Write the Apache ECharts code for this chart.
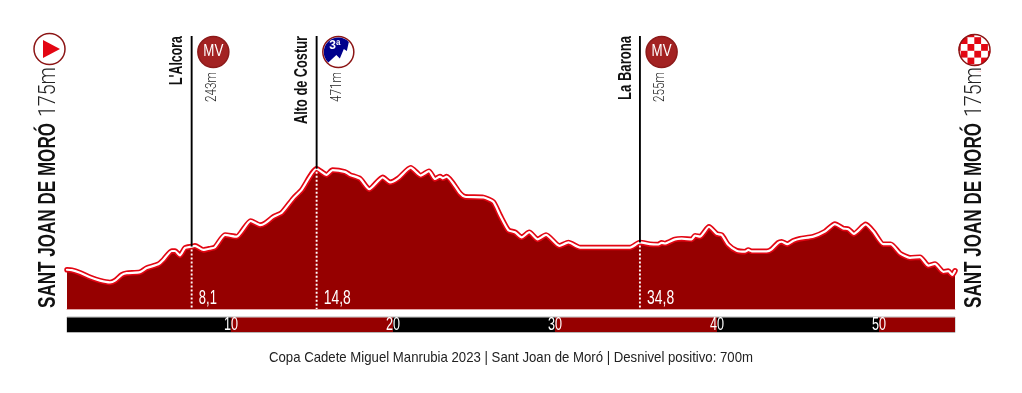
<!DOCTYPE html>
<html><head><meta charset="utf-8">
<style>html,body{margin:0;padding:0;background:#fff}#c{width:1022px;height:393px}</style>
<script src="https://cdn.jsdelivr.net/npm/echarts@6/dist/echarts.min.js"></script>
</head><body><div id="c"></div>
<script>
const km=[0,0.29,0.79,1.4,2.01,2.61,2.92,3.33,3.63,4.44,4.85,5.55,5.86,6.37,6.57,6.87,7.18,7.58,7.78,8.29,8.7,9,9.61,10.32,11.17,11.74,12.04,12.55,13.06,13.76,14.27,15.18,15.79,16.15,16.9,17.21,17.82,18.38,19.2,19.64,20.15,20.9,21.51,22.01,22.38,22.68,22.85,23.09,23.9,24.2,25.32,25.92,26.33,26.84,27.24,27.65,28.11,28.62,29.13,29.94,30.49,31.2,34.24,34.84,35.45,35.96,36.16,36.36,36.97,37.38,37.99,38.19,38.49,39.04,39.51,39.81,40.21,40.72,41.23,41.43,41.64,42.55,42.85,43.25,43.46,43.8,44.17,44.57,45.38,46.09,46.7,47.2,47.51,47.85,48.57,49.03,49.64,50.09,50.65,51.26,51.87,52.38,52.78,53.29,53.59,53.84,54];
const elevation=[175,174,166,153,143,138,143,160,165,168,180,191,204,230,230,217,239,243,245,233,237,241,277,272,318,306,311,330,342,384,409,471,453,467,462,453,442,411,446,431,443,474,451,464,441,448,443,448,399,389,387,374,335,291,285,270,285,264,277,245,255,240,240,255,250,249,254,252,264,266,264,275,272,301,280,277,248,231,228,233,229,229,235,254,257,250,260,266,272,287,309,296,294,280,308,287,250,250,223,210,212,187,192,169,171,160,172];
const markerPos=[7.58,15.18,34.84];
const markerElev=[243,471,255];
const markerNames=["L'Alcora","Alto de Costur","La Barona"];
const markerCats=["MV","3ª","MV"];
const markerElevLabels=["243m","471m","255m"];
const markerKmLabels=["8,1","14,8","34,8"];
const barEdges=[-0.12,10,20,30,40,50,54.69];
const barLabels=["10","20","30","40","50"];
const startName="SANT JOAN DE MORÓ";
const startElev="175m";
const caption="Copa Cadete Miguel Manrubia 2023 | Sant Joan de Moró | Desnivel positivo: 700m";
const startKmLabel="0", endKmLabel="54,0";

const SANS='"Liberation Sans",sans-serif', THIN='Roboto,"Liberation Sans",sans-serif';
const DARK='#960000', RED='#e30613', RIM='#8c1515';
const nameLen=[49,88,64], kmLen=[18,27,27];
const chart=echarts.init(document.getElementById('c'),null,{renderer:'canvas'});
const profile=km.map((k,i)=>[k,elevation[i]]);
const ctx=document.createElement('canvas').getContext('2d');
function fit(text,font,len){ctx.font=font;return len/ctx.measureText(text).width;}

function vtext(text,x,y,font,color,len){
  return {type:'text',x:x,y:y,rotation:Math.PI/2,scaleX:fit(text,font,len),
    style:{text:text,fill:color,font:font,align:'left',verticalAlign:'middle'}};
}
function htext(text,x,y,font,len,align,color){
  return {type:'text',x:x,y:y,scaleX:fit(text,font,len),style:{text:text,fill:color||'#fff',font:font,align:align||'left',verticalAlign:'middle'}};
}
function renderMarker(params,api){
  const i=params.dataIndex;
  const p=api.coord([api.value(0),api.value(1)]);
  const top=api.coord([api.value(0),860])[1];
  const bot=api.coord([api.value(0),60])[1];
  const lx=p[0], x=p[0]+0.2;
  const ch=[
    {type:'line',shape:{x1:lx,y1:top,x2:lx,y2:p[1]},style:{stroke:'#000',lineWidth:1.9}},
    {type:'line',shape:{x1:lx,y1:p[1]+3,x2:lx,y2:bot},style:{stroke:'#fff',lineWidth:1.9,lineDash:[2,2]}},
    vtext(markerNames[i],x-14.5,top+nameLen[i],`700 18px ${SANS}`,'#111',nameLen[i]),
    vtext(markerElevLabels[i],x+20.5,top+66,`300 15px ${THIN}`,'#222',30),
    htext(markerKmLabels[i],x+7,298,`400 20px ${SANS}`,kmLen[i]),
  ];
  const cx=x+21.5, cy=top+16;
  if(markerCats[i]==='MV'){
    ch.push({type:'circle',shape:{cx:cx,cy:cy,r:15.5},style:{fill:'#a32222',stroke:'#8c1a1a',lineWidth:1.5}});
    ch.push(htext('MV',cx,cy,`400 16px ${SANS}`,20,'center'));
  }else{
    ch.push({type:'circle',shape:{cx:cx,cy:cy,r:15.5},style:{fill:'#fff',stroke:RIM,lineWidth:1.5}});
    ch.push({type:'path',x:cx,y:cy,shape:{pathData:'M-10,10.5 L-2,3 L1.5,6.5 L5.5,-3 L8.5,-1 L10.5,-10 A14.5 14.5 0 1 0 -10 10.5 Z',layout:'none'},style:{fill:'#00008c'}});
    ch.push({type:'text',x:cx-3.5,y:cy-6,style:{text:markerCats[i],fill:'#fff',font:`700 12px ${SANS}`,align:'center',verticalAlign:'middle'}});
  }
  return {type:'group',children:ch};
}
function renderBar(params,api){
  const i=params.dataIndex;
  const a=api.coord([api.value(0),0]);
  const b=api.coord([api.value(1),0]);
  const h=14.5;
  return {type:'rect',shape:{x:a[0],y:a[1]-h/2,width:b[0]-a[0],height:h},style:{fill:i%2===0?'#000':DARK}};
}
function renderBarLabel(params,api){
  const a=api.coord([api.value(0),0]);
  return htext(barLabels[params.dataIndex],a[0],a[1]+0.5,`400 19px ${SANS}`,14,'center');
}
const checks=[];
(function(){
  const cx=974.5,cy=50,p=6.8;
  for(let r=-2;r<=4;r++)for(let c=-4;c<=3;c++){
    if(((r+c)%2+2)%2!==0)continue;
    const X=977.7+c*p,Y=40.6+r*p;
    if(Math.hypot(X-cx,Y-cy)>19)continue;
    checks.push({type:'rect',shape:{x:X-p/2,y:Y-p/2,width:p,height:p},style:{fill:'#e30613'}});
  }
})();
chart.setOption({
  animation:false,
  grid:[{left:67,top:36,width:888,height:273},{left:67,top:317.5,width:888,height:14.5}],
  xAxis:[
    {type:'value',gridIndex:0,min:0,max:54,axisLine:{show:true,onZero:false,lineStyle:{color:'#e2a6a6',width:1}},axisTick:{show:false},axisLabel:{show:false},splitLine:{show:false}},
    {type:'value',gridIndex:1,min:-0.12,max:54.69,axisLine:{show:false},axisTick:{show:false},axisLabel:{show:false},splitLine:{show:false}}
  ],
  yAxis:[
    {type:'value',gridIndex:0,min:60,max:860,show:false},
    {type:'value',gridIndex:1,min:-1,max:1,show:false}
  ],
  series:[
    {type:'line',name:'perfil',data:profile,xAxisIndex:0,yAxisIndex:0,showSymbol:false,smooth:0.2,clip:false,
      lineStyle:{color:RED,width:5.5,cap:'round',join:'round'},areaStyle:{color:DARK,opacity:1,origin:'start'},z:2},
    {type:'line',data:profile,xAxisIndex:0,yAxisIndex:0,showSymbol:false,smooth:0.2,clip:false,
      lineStyle:{color:'#fff',width:2.2,cap:'round',join:'round'},z:3},
    {type:'custom',data:markerPos.map((k,i)=>[k,markerElev[i]]),xAxisIndex:0,yAxisIndex:0,renderItem:renderMarker,clip:false,z:4},
    {type:'custom',data:barEdges.slice(0,-1).map((e,i)=>[e,barEdges[i+1]]),xAxisIndex:1,yAxisIndex:1,renderItem:renderBar,clip:false,z:2},
    {type:'custom',data:barEdges.slice(1,-1).map(e=>[e]),xAxisIndex:1,yAxisIndex:1,renderItem:renderBarLabel,clip:false,z:3}
  ],
  graphic:[
    {type:'rect',shape:{x:67,y:317,width:888,height:15.5},style:{fill:'none',stroke:'#b5b5b5',lineWidth:1},z:1},
    {type:'circle',shape:{cx:49.5,cy:49,r:15.5},style:{fill:'#fff',stroke:RIM,lineWidth:1.5}},
    {type:'polygon',shape:{points:[[43,40],[60,49],[43,58]]},style:{fill:'#e30613'}},
    {type:'group',children:checks},
    {type:'circle',shape:{cx:974.5,cy:50,r:19},style:{fill:'none',stroke:'#fff',lineWidth:6}},
    {type:'circle',shape:{cx:974.5,cy:50,r:15.5},style:{fill:'none',stroke:RIM,lineWidth:1.5}},
    vtext(startName,48.5,308,`700 24px ${SANS}`,'#111',185),
    vtext(startElev,48.5,117,`300 24px ${THIN}`,'#222',50),
    vtext(startName,974.5,308,`700 24px ${SANS}`,'#111',185),
    vtext(startElev,974.5,117,`300 24px ${THIN}`,'#222',50),
    htext(startKmLabel,73,298,`400 20px ${SANS}`,7),
    htext(endKmLabel,951,298,`400 20px ${SANS}`,28,'right'),
    htext(caption,269,358,`400 15px ${SANS}`,484,'left','#222')
  ]
});
</script></body></html>
